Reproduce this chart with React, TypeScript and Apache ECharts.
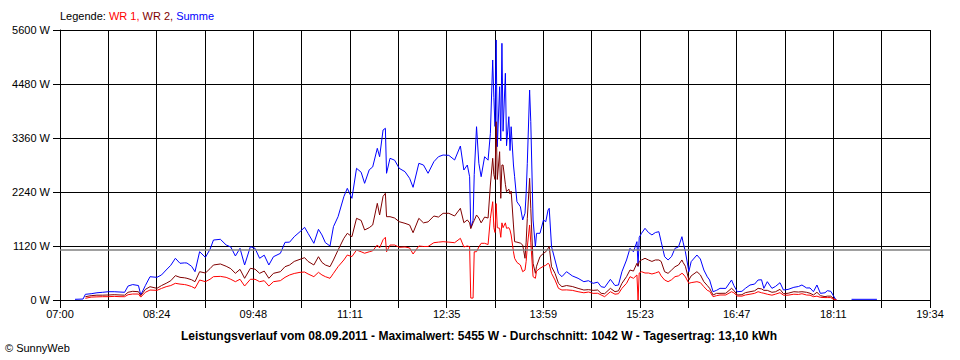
import React, { useEffect, useRef } from "react";
import * as echarts from "echarts";

// Sample times (HH:MM)
const TIMES = [
  "07:13","07:20","07:22","07:27","07:32","07:37","07:42","07:47","07:52","07:56",
  "07:59","08:03","08:08","08:10","08:14","08:18","08:24","08:28","08:32","08:36",
  "08:40","08:44","08:48","08:50","08:54","08:57","09:01","09:06","09:10","09:13",
  "09:19","09:24","09:28","09:32","09:36","09:40","09:45","09:49","09:53","09:57",
  "10:01","10:05","10:11","10:15","10:19","10:23","10:28","10:32","10:35","10:40",
  "10:44","10:47","10:50","10:54","10:57","11:01","11:06","11:09","11:13","11:17",
  "11:21","11:24","11:28","11:31","11:35","11:37","11:40","11:42","11:43","11:46",
  "11:50","11:54","11:59","12:03","12:06","12:11","12:15","12:19","12:24","12:28",
  "12:32","12:37","12:42","12:47","12:50","12:53","12:55","12:56","12:58","12:59",
  "13:01","13:03","13:05","13:08","13:11","13:13","13:15","13:16","13:17","13:18",
  "13:19","13:21","13:22","13:23","13:24","13:26","13:27","13:29","13:30","13:31",
  "13:33","13:34","13:36","13:39","13:41","13:43","13:44","13:45","13:47","13:48",
  "13:50","13:52","13:53","13:56","13:59","14:01","14:03","14:04","14:06","14:09",
  "14:12","14:15","14:19","14:24","14:29","14:34","14:38","14:42","14:46","14:49",
  "14:52","14:57","15:01","15:04","15:07","15:11","15:14","15:17","15:20","15:21",
  "15:22","15:24","15:27","15:30","15:33","15:36","15:39","15:41","15:44","15:47",
  "15:50","15:53","15:56","15:59","16:00","16:02","16:05","16:07","16:12","16:15",
  "16:18","16:21","16:23","16:26","16:29","16:32","16:37","16:42","16:44","16:47",
  "16:51","16:54","16:58","17:02","17:05","17:08","17:10","17:13","17:17","17:20",
  "17:24","17:27","17:31","17:36","17:40","17:43","17:47","17:50","17:53","17:56",
  "17:59","18:03","18:05","18:08","18:10","18:12","18:13","18:20","18:26","18:48"
];

// WR 1 (W)
const WR1 = [
  null,null,35,60,65,69,69,75,69,69,
  110,124,124,60,160,207,200,240,276,300,
  346,330,320,310,280,242,415,380,430,484,
  490,470,430,380,430,290,430,430,380,400,
  290,380,401,470,519,550,574,580,540,484,
  574,520,484,450,553,691,830,933,900,1037,
  1000,970,1000,1020,1141,1080,1250,1300,1000,1140,
  1141,1093,1100,1080,954,1120,1110,1110,1189,1200,
  1210,1200,1189,1279,1100,1120,1106,40,40,1000,
  1002,1100,1176,1176,1150,1694,2039,1500,1400,2000,
  1500,1487,1300,1600,1500,1600,1487,1500,1450,1348,
  1002,865,780,726,587,620,800,1100,1556,1200,
  484,450,600,657,700,720,761,740,553,415,
  242,207,210,200,172,150,165,138,140,104,
  69,172,120,130,242,346,484,450,519,0,
  560,587,560,560,540,560,587,500,415,380,
  420,484,500,553,540,480,346,360,380,360,
  276,200,180,69,90,104,104,172,150,83,
  80,104,120,138,172,150,140,120,100,120,
  152,100,100,120,115,130,104,100,69,80,
  55,50,50,50,20,5,0,null,null,null
];

// WR 2 (W)
const WR2 = [
  null,null,69,90,100,100,104,110,104,100,
  160,180,172,90,220,276,242,300,346,400,
  505,470,460,450,420,380,587,560,650,726,
  747,700,650,553,636,450,657,640,553,600,
  450,553,587,691,726,800,844,878,800,726,
  898,780,726,691,830,1037,1279,1383,1313,1694,
  1650,1452,1500,1556,2005,1763,2150,2213,1728,1728,
  1700,1624,1590,1556,1396,1694,1600,1620,1742,1720,
  1798,1798,1742,1902,1603,1660,1600,1480,1600,1650,
  1763,1700,1600,1720,1700,2385,2939,2600,2500,3698,
  2500,3076,2109,2800,2800,2400,2246,2300,2200,2260,
  1556,1210,1200,1180,1141,865,1200,1694,2524,1900,
  761,553,700,900,968,1000,1072,1106,691,553,
  346,276,300,280,242,207,215,200,207,138,
  130,242,172,190,346,484,622,600,761,700,
  800,830,865,830,800,830,830,800,587,553,
  620,690,726,830,780,700,415,500,587,520,
  380,300,242,104,138,138,140,242,200,104,
  110,152,172,190,242,230,200,200,160,170,
  221,130,140,172,165,172,160,140,104,160,
  90,69,80,80,40,10,0,null,null,null
];

// Summe (W)
const SUMME = [
  14,20,118,130,150,160,172,172,165,160,
  290,320,300,104,300,483,470,520,622,720,
  865,761,770,767,700,587,1002,885,1050,1244,
  1259,1141,1100,913,1072,726,1106,1072,865,930,
  726,898,968,1196,1200,1313,1417,1507,1383,1176,
  1466,1350,1189,1120,1521,1728,2143,2316,2109,2731,
  2650,2420,2700,2760,3146,2972,3526,3561,2628,2939,
  2900,2731,2661,2524,2337,2835,2800,2628,2868,2972,
  3007,3000,2904,3194,2696,2800,2557,1500,1650,2600,
  3594,2835,2557,2972,2900,3457,4978,4200,3600,5393,
  3180,4424,3300,5324,3500,4702,3200,3802,3100,3594,
  2800,2557,2039,1935,1659,1800,2213,2835,4355,3700,
  1659,1105,1383,1383,1659,1624,1867,1902,1106,830,
  553,484,587,500,450,380,400,346,370,276,
  260,429,300,310,587,830,1072,1000,1210,700,
  1300,1383,1487,1400,1350,1400,1417,1210,898,830,
  900,1072,1100,1313,1200,1002,587,795,933,850,
  622,480,415,172,200,242,240,415,300,172,
  180,242,311,330,415,420,242,380,242,280,
  359,207,220,263,280,311,250,250,172,311,
  138,150,193,180,100,21,0,null,14,14
];

const X_LABELS = ["07:00","08:24","09:48","11:11","12:35","13:59","15:23","16:47","18:11","19:34"];
const AVERAGE = 1042;
const TITLE = "Leistungsverlauf vom 08.09.2011 - Maximalwert: 5455 W - Durchschnitt: 1042 W - Tagesertrag: 13,10 kWh";

const SPAN = 754; // minutes from 07:00 to 19:34
const STEP = SPAN / 18;
const FONT = "'Liberation Sans', Arial, sans-serif";

function toMin(s: string): number {
  const [h, m] = s.split(":").map(Number);
  return h * 60 + m - 420;
}

function pairs(vals: (number | null)[]) {
  return TIMES.map((t, i) => [toMin(t), vals[i] === null ? "-" : vals[i]]);
}

export default function App() {
  const ref = useRef<HTMLDivElement>(null);
  useEffect(() => {
    document.body.style.margin = "0";
    const chart = echarts.init(ref.current!, null, { renderer: "svg" });
    chart.setOption({
      animation: false,
      backgroundColor: "#fff",
      grid: { left: 60, right: 30, top: 30, bottom: 60, containLabel: false },
      xAxis: {
        type: "value",
        min: 0,
        max: SPAN,
        interval: STEP,
        axisLine: { show: true, lineStyle: { color: "#000", width: 1 } },
        axisTick: { show: true, length: 8, lineStyle: { color: "#000" } },
        splitLine: { show: true, lineStyle: { color: "#000", width: 1 } },
        axisLabel: {
          color: "#000",
          fontSize: 11,
          fontFamily: FONT,
          margin: 8,
          showMinLabel: true,
          showMaxLabel: true,
          formatter: (v: number) => {
            const idx = Math.round(v / STEP);
            if (idx % 2 !== 0) return "";
            return X_LABELS[idx / 2] ?? "";
          },
        },
      },
      yAxis: {
        type: "value",
        min: 0,
        max: 5600,
        interval: 1120,
        axisLine: { show: true, lineStyle: { color: "#000", width: 1 } },
        axisTick: { show: true, length: 7, lineStyle: { color: "#000" } },
        splitLine: { show: true, lineStyle: { color: "#000", width: 1 } },
        axisLabel: {
          color: "#000",
          fontSize: 11,
          fontFamily: FONT,
          margin: 10,
          formatter: (v: number) => `${Math.round(v)} W`,
        },
      },
      series: [
        {
          name: "Summe",
          type: "line",
          data: pairs(SUMME),
          showSymbol: false,
          connectNulls: false,
          lineStyle: { color: "#0000ff", width: 1 },
          itemStyle: { color: "#0000ff" },
          markLine: {
            silent: true,
            symbol: "none",
            label: { show: false },
            lineStyle: { color: "#808080", width: 1.5, type: "solid" },
            data: [{ yAxis: AVERAGE }],
          },
        },
        {
          name: "WR 2",
          type: "line",
          data: pairs(WR2),
          showSymbol: false,
          connectNulls: false,
          lineStyle: { color: "#800000", width: 1 },
          itemStyle: { color: "#800000" },
        },
        {
          name: "WR 1",
          type: "line",
          data: pairs(WR1),
          showSymbol: false,
          connectNulls: false,
          lineStyle: { color: "#ff0000", width: 1 },
          itemStyle: { color: "#ff0000" },
        },
      ],
      graphic: [
        {
          type: "text",
          left: 60,
          top: 10,
          style: {
            text: "{k|Legende: }{r|WR 1, }{d|WR 2, }{b|Summe}",
            font: `11px ${FONT}`,
            rich: {
              k: { fill: "#000", fontSize: 11, fontFamily: FONT },
              r: { fill: "#ff0000", fontSize: 11, fontFamily: FONT },
              d: { fill: "#800000", fontSize: 11, fontFamily: FONT },
              b: { fill: "#0000ff", fontSize: 11, fontFamily: FONT },
            },
          },
        },
        {
          type: "text",
          x: 479,
          y: 336,
          style: {
            text: TITLE,
            fill: "#000",
            font: `bold 12px ${FONT}`,
            textAlign: "center",
            textVerticalAlign: "middle",
          },
        },
        {
          type: "text",
          x: 5,
          y: 348,
          style: {
            text: "© SunnyWeb",
            fill: "#000",
            font: `11px ${FONT}`,
            textAlign: "left",
            textVerticalAlign: "middle",
          },
        },
      ],
    });
    return () => chart.dispose();
  }, []);
  return <div ref={ref} style={{ width: 960, height: 360 }} />;
}
